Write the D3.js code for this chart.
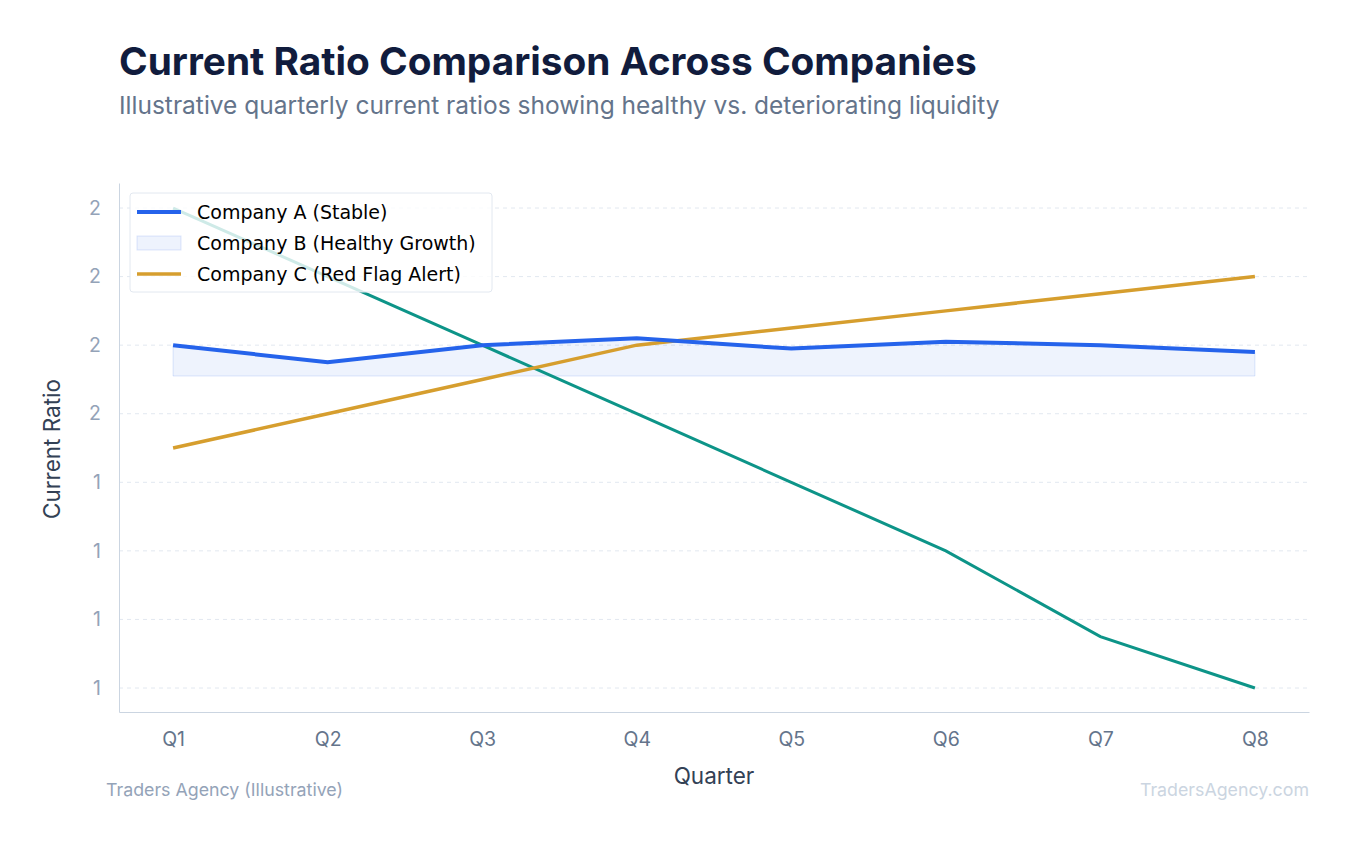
<!DOCTYPE html>
<html><head><meta charset="utf-8">
<script src="https://cdn.jsdelivr.net/npm/d3@7"></script>
<style>body{margin:0;background:#fff;font-family:Inter,sans-serif}</style>
</head><body><svg id="c" width="1354" height="845"></svg>
<script>
const quarters=["Q1","Q2","Q3","Q4","Q5","Q6","Q7","Q8"];
const companyA=[1.8,1.75,1.8,1.82,1.79,1.81,1.8,1.78];
const companyBBase=1.71;
const companyC=[1.5,1.6,1.7,1.8,1.85,1.9,1.95,2.0];
const teal=[2.2,2.0,1.8,1.6,1.4,1.2,0.95,0.8];
const yTicks=[0.8,1.0,1.2,1.4,1.6,1.8,2.0,2.2];

const svg=d3.select("#c");
const L=119,R=1309,T=183,B=712;
const x=d3.scalePoint().domain(quarters).range([L,R]).padding(0.35);
const y=d3.scaleLinear().domain([0.73,2.273]).range([B,T]);

svg.append("text").attr("x",119).attr("y",75).attr("font-size",38.8).attr("font-weight",700).attr("fill","#111c3d").text("Current Ratio Comparison Across Companies");
svg.append("text").attr("x",119).attr("y",114).attr("font-size",24.5).attr("fill","#64748b").text("Illustrative quarterly current ratios showing healthy vs. deteriorating liquidity");

svg.append("g").selectAll("line").data(yTicks).join("line")
 .attr("x1",L).attr("x2",R).attr("y1",d=>y(d)).attr("y2",d=>y(d))
 .attr("stroke","#e2e8f0").attr("stroke-dasharray","4,4");

const ya=svg.append("g").attr("transform",`translate(${L},0)`).call(d3.axisLeft(y).tickValues(yTicks).tickFormat(d3.format(".0f")).tickSize(0).tickPadding(18));
ya.select(".domain").attr("stroke","#cbd5e1");
ya.selectAll("text").attr("font-size",19.5).attr("fill","#94a3b8").attr("font-family","Inter");
const xa=svg.append("g").attr("transform",`translate(0,${B})`).call(d3.axisBottom(x).tickSize(0).tickPadding(20));
xa.select(".domain").attr("stroke","#cbd5e1");
xa.selectAll("text").attr("font-size",19.5).attr("fill","#64748b").attr("font-family","Inter");

svg.append("text").attr("x",714).attr("y",784).attr("text-anchor","middle").attr("font-size",22.5).attr("fill","#334155").text("Quarter");
svg.append("text").attr("transform","translate(60,449) rotate(-90)").attr("text-anchor","middle").attr("font-size",22.5).attr("fill","#334155").text("Current Ratio");

svg.append("path").datum(companyA).attr("fill","rgba(37,99,235,0.08)").attr("stroke","rgba(37,99,235,0.15)")
 .attr("d",d3.area().x((d,i)=>x(quarters[i])).y0(y(companyBBase)).y1(d=>y(d)));
const line=d3.line().x((d,i)=>x(quarters[i])).y(d=>y(d));
svg.append("path").datum(teal).attr("fill","none").attr("stroke","#0d9488").attr("stroke-width",3).attr("d",line);
svg.append("path").datum(companyC).attr("fill","none").attr("stroke","#d69e2e").attr("stroke-width",3.5).attr("d",line);
svg.append("path").datum(companyA).attr("fill","none").attr("stroke","#2563eb").attr("stroke-width",4).attr("d",line);

const lg=svg.append("g");
lg.append("rect").attr("x",130).attr("y",193).attr("width",362).attr("height",99).attr("rx",3).attr("fill","rgba(255,255,255,0.8)").attr("stroke","#e2e8f0");
const items=[["Company A (Stable)","line","#2563eb",4],["Company B (Healthy Growth)","area","",0],["Company C (Red Flag Alert)","line","#d69e2e",3.5]];
items.forEach((it,i)=>{
 const cy=212+i*31;
 if(it[1]==="line") lg.append("line").attr("x1",137).attr("x2",181).attr("y1",cy).attr("y2",cy).attr("stroke",it[2]).attr("stroke-width",it[3]);
 else lg.append("rect").attr("x",137).attr("y",cy-7).attr("width",44).attr("height",14).attr("fill","rgba(37,99,235,0.08)").attr("stroke","rgba(37,99,235,0.15)");
 lg.append("text").attr("x",197).attr("y",cy+7).attr("font-size",19).attr("font-family","'DejaVu Sans', sans-serif").attr("fill","#000").text(it[0]);
});

svg.append("text").attr("x",106).attr("y",796).attr("font-size",17.8).attr("fill","#94a3b8").text("Traders Agency (Illustrative)");
svg.append("text").attr("x",1309).attr("y",796).attr("text-anchor","end").attr("font-size",17.8).attr("fill","#cbd5e1").text("TradersAgency.com");
</script></body></html>
